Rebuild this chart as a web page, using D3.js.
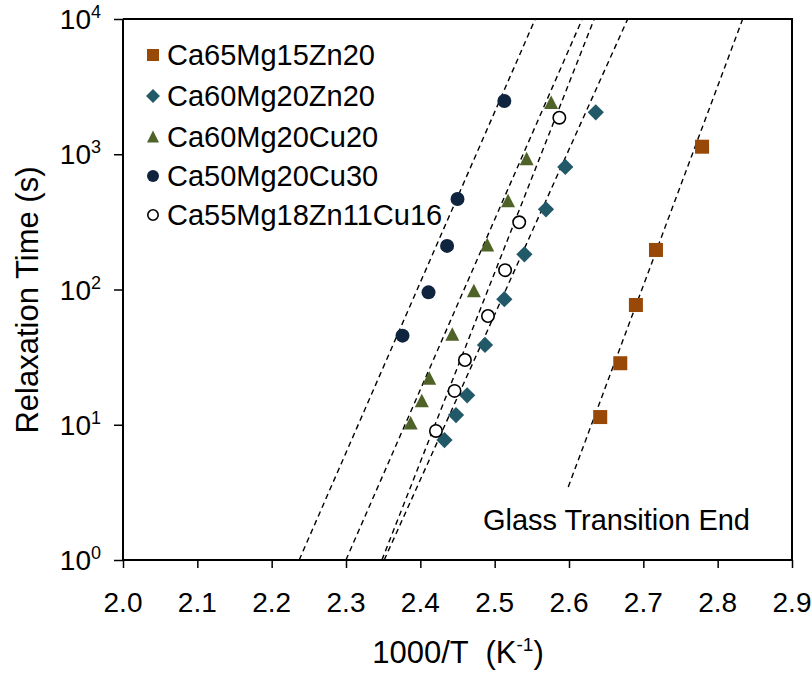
<!DOCTYPE html>
<html><head><meta charset="utf-8">
<script src="https://cdn.jsdelivr.net/npm/d3@7/dist/d3.min.js"></script>
<style>
body{margin:0;background:#fff}
svg{display:block}
text{font-family:"Liberation Sans",Arial,Helvetica,sans-serif;fill:#000}
</style>
</head><body>
<svg id="chart" width="811" height="673"></svg>
<script>
// ---- data ----
const seriesNames = ["Ca65Mg15Zn20","Ca60Mg20Zn20","Ca60Mg20Cu20","Ca50Mg20Cu30","Ca55Mg18Zn11Cu16"];
const seriesColors = ["#984807","#215968","#4F6228","#0F243E","#ffffff"];
const seriesShapes = ["square","diamond","triangle","circle","opencircle"];

const caMgZn_65_x = [2.642,2.669,2.690,2.717,2.779];
const caMgZn_65_y = [11.4,28.5,76.8,196,1137];

const caMgZn_60_x = [2.4325,2.448,2.463,2.487,2.513,2.540,2.569,2.595,2.636];
const caMgZn_60_y = [7.7,11.8,16.5,38.9,84.8,182,392,805,2042];

const caMgCu_60_x = [2.387,2.402,2.412,2.443,2.472,2.490,2.518,2.543,2.576];
const caMgCu_60_y = [10.25,15.0,22.0,46.5,97.5,213,451,922,2405];

const caMgCu_50_x = [2.376,2.411,2.436,2.450,2.513];
const caMgCu_50_y = [45.6,95.3,210,467,2477];

const caMgZnCu_x = [2.421,2.446,2.460,2.491,2.514,2.533,2.587];
const caMgZnCu_y = [9.0,17.8,30.1,63.7,139,314,1863];

// fitted (dashed) lines: [x, y] end points
const fit_65 = [[2.599,3.47],[2.8337,10000]];
const fit_60Zn = [[2.3514,1],[2.6790,10000]];
const fit_60Cu = [[2.2999,1],[2.6178,10000]];
const fit_50Cu = [[2.2370,1],[2.5546,10000]];
const fit_55 = [[2.3483,1],[2.6339,10000]];

const xTicks = [2.0,2.1,2.2,2.3,2.4,2.5,2.6,2.7,2.8,2.9];
const yTicks = [1,10,100,1000,10000];
const yTickExp = ["0","1","2","3","4"];
const xTitle = "1000/T  (K";
const xTitleSup = "-1";
const xTitleEnd = ")";
const yTitle = "Relaxation Time (s)";
const annotation = "Glass Transition End";

const series = [
  {x:caMgZn_65_x,y:caMgZn_65_y,fit:fit_65},
  {x:caMgZn_60_x,y:caMgZn_60_y,fit:fit_60Zn},
  {x:caMgCu_60_x,y:caMgCu_60_y,fit:fit_60Cu},
  {x:caMgCu_50_x,y:caMgCu_50_y,fit:fit_50Cu},
  {x:caMgZnCu_x,y:caMgZnCu_y,fit:fit_55}
];

// ---- layout ----
const L=123, R=792, T=19, B=560;
const svg = d3.select("#chart");
const x = d3.scaleLinear().domain([2.0,2.9]).range([L,R]);
const y = d3.scaleLog().domain([1,10000]).range([B,T]);

// fit lines
const line = d3.line().x(d=>x(d[0])).y(d=>y(d[1]));
const gl = svg.append("g");
series.forEach(s=>{
  gl.append("path").attr("d",line(s.fit)).attr("fill","none")
    .attr("stroke","#000").attr("stroke-width",1.4).attr("stroke-dasharray","5.5,4");
});

// marker drawing
function drawMarker(g, shape, color, cx, cy, size){
  if(shape==="square"){
    g.append("rect").attr("x",cx-size/2).attr("y",cy-size/2).attr("width",size).attr("height",size).attr("fill",color);
  } else if(shape==="diamond"){
    const h=size*0.58;
    g.append("path").attr("d",`M${cx},${cy-h}L${cx+h},${cy}L${cx},${cy+h}L${cx-h},${cy}Z`).attr("fill",color);
  } else if(shape==="triangle"){
    const w=size/2, hh=size*0.9;
    g.append("path").attr("d",`M${cx},${cy-hh/2-1}L${cx+w},${cy+hh/2}L${cx-w},${cy+hh/2}Z`).attr("fill",color);
  } else if(shape==="circle"){
    g.append("circle").attr("cx",cx).attr("cy",cy).attr("r",size/2).attr("fill",color);
  } else {
    g.append("circle").attr("cx",cx).attr("cy",cy).attr("r",size/2-0.8).attr("fill","#fff").attr("stroke","#000").attr("stroke-width",1.6);
  }
}

const gm = svg.append("g");
series.forEach((s,i)=>{
  s.x.forEach((xv,j)=>{
    drawMarker(gm, seriesShapes[i], seriesColors[i], x(xv), y(s.y[j]), 14);
  });
});

// axes
const xAxis = svg.append("g").attr("transform",`translate(0,${B})`)
  .call(d3.axisBottom(x).tickValues(xTicks).tickSize(8).tickFormat(""));
xAxis.select(".domain").attr("stroke-width",2).attr("d",`M${L},0H${R}`);
xAxis.selectAll(".tick line").attr("stroke-width",1.5);
xTicks.forEach(t=>{
  svg.append("text").attr("x",x(t)).attr("y",612).attr("text-anchor","middle")
    .attr("font-size",28).text(t.toFixed(1));
});

const yAxis = svg.append("g").attr("transform",`translate(${L},0)`)
  .call(d3.axisLeft(y).tickValues(yTicks).tickSize(9).tickFormat(""));
yAxis.select(".domain").attr("stroke-width",2).attr("d",`M0,${B}V${T}`);
yAxis.selectAll(".tick line").attr("stroke-width",1.5);
yTicks.forEach((t,i)=>{
  const tx = svg.append("text").attr("x",101).attr("y",y(t)+10).attr("text-anchor","end").attr("font-size",28);
  tx.append("tspan").text("10");
  tx.append("tspan").attr("font-size",18).attr("dy",-11).text(yTickExp[i]);
});

// top/right frame
svg.append("path").attr("d",`M${L},${T}H${R}V${B}`).attr("fill","none").attr("stroke","#000").attr("stroke-width",2);

// titles
const xt = svg.append("text").attr("x",458).attr("y",663).attr("text-anchor","middle").attr("font-size",31)
  .attr("xml:space","preserve").style("white-space","pre");
xt.append("tspan").text(xTitle);
xt.append("tspan").attr("font-size",19).attr("dy",-12).text(xTitleSup);
xt.append("tspan").attr("dy",12).text(xTitleEnd);

svg.append("text").attr("transform",`translate(38,300) rotate(-90)`).attr("text-anchor","middle")
  .attr("font-size",31).text(yTitle);

svg.append("text").attr("x",483).attr("y",530).attr("font-size",29).attr("textLength",267).text(annotation);

// legend
const legY = [55,96,137,176,215];
const lg = svg.append("g");
seriesNames.forEach((n,i)=>{
  drawMarker(lg, seriesShapes[i], seriesColors[i], 153, legY[i], 12);
  lg.append("text").attr("x",167).attr("y",legY[i]+10).attr("font-size",29).text(n);
});
</script>
</body></html>
